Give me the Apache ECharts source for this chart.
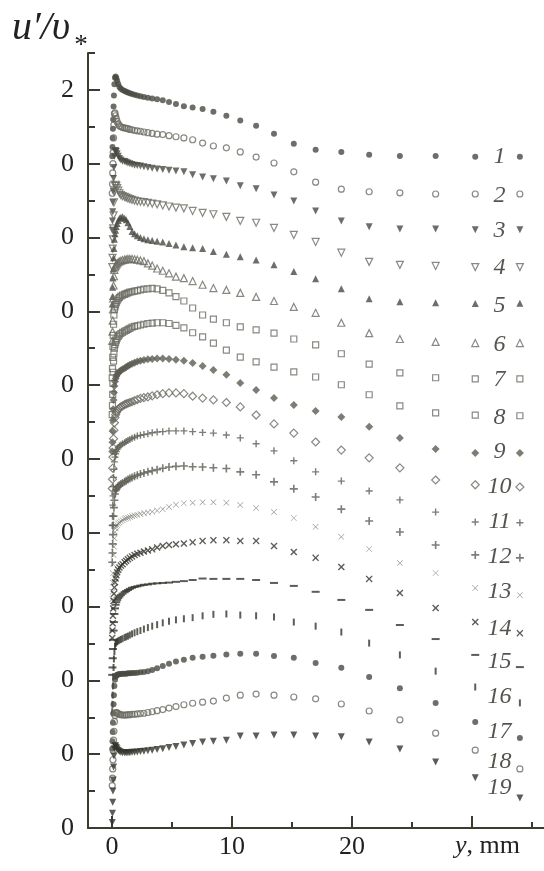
<!DOCTYPE html>
<html>
<head>
<meta charset="utf-8">
<title>u'/v* profiles</title>
<script src="https://cdn.jsdelivr.net/npm/echarts@6/dist/echarts.min.js"></script>
<style>
  html, body { margin: 0; padding: 0; background: #ffffff; }
  #chart { width: 544px; height: 871px; }
</style>
</head>
<body>
<div id="chart"></div>
<script>
// Wall distance y, mm (shared by all profiles)
const yMm = [0.02,0.04,0.06,0.08,0.10,0.13,0.16,0.20,0.25,0.30,
  0.36,0.43,0.52,0.62,0.74,0.88,
  1.05,1.18,1.33,1.49,1.67,1.88,2.11,2.37,2.66,2.99,
  3.35,3.76,4.23,4.75,5.33,5.99,6.72,
  7.55,8.45,9.53,10.69,12.01,13.50,15.15,16.97,19.11,21.43,23.99,26.97,30.27,33.99];

// u'/v* for profiles 1..19 (each is shifted up by one unit relative to the next)
const u1 = [0.2,0.45,0.7,0.95,1.2,1.55,1.85,2.15,2.33,2.36, 2.32,2.25,2.16,2.08,2.03,2.00, 1.97,1.95,1.93,1.91,1.89,1.87,1.85,1.83,1.81,1.79, 1.77,1.75,1.72,1.67,1.62,1.56,1.52, 1.48,1.41,1.30,1.17,1.03,0.81,0.54,0.38,0.32,0.24,0.21,0.21,0.19,0.19];
const u2 = [0.2,0.45,0.75,1.0,1.3,1.7,2.05,2.35,2.38,2.30, 2.22,2.14,2.08,2.03,2.00,1.98, 1.97,1.96,1.95,1.93,1.92,1.90,1.89,1.88,1.86,1.84, 1.82,1.80,1.79,1.76,1.73,1.70,1.65, 1.56,1.48,1.43,1.32,1.18,1.02,0.78,0.50,0.31,0.24,0.21,0.18,0.18,0.18];
const u3 = [0.2,0.45,0.7,0.95,1.25,1.6,1.9,2.2,2.34,2.36, 2.33,2.27,2.20,2.14,2.10,2.07, 2.06,2.04,2.02,2.00,1.98,1.96,1.95,1.94,1.92,1.90, 1.88,1.86,1.84,1.82,1.80,1.78,1.70, 1.64,1.59,1.53,1.40,1.32,1.15,0.99,0.72,0.45,0.29,0.23,0.23,0.21,0.21];
const u4 = [0.2,0.45,0.7,0.95,1.25,1.6,1.95,2.25,2.40,2.43, 2.40,2.34,2.27,2.20,2.15,2.12, 2.10,2.08,2.06,2.04,2.02,2.00,1.98,1.97,1.96,1.94, 1.92,1.90,1.87,1.84,1.81,1.79,1.72, 1.67,1.63,1.56,1.45,1.40,1.26,1.07,0.88,0.59,0.34,0.26,0.23,0.20,0.20];
const u5 = [0.2,0.4,0.65,0.9,1.15,1.45,1.7,1.95,2.10,2.20, 2.30,2.38,2.46,2.52,2.55,2.56, 2.52,2.48,2.40,2.30,2.16,2.10,2.05,2.00,1.97,1.94, 1.92,1.90,1.88,1.84,1.80,1.75,1.72, 1.70,1.62,1.55,1.48,1.39,1.26,1.08,0.88,0.61,0.34,0.26,0.23,0.21,0.22];
const u6 = [0.2,0.45,0.75,1.05,1.35,1.7,1.95,2.12,2.20,2.24, 2.27,2.30,2.33,2.35,2.37,2.39, 2.40,2.41,2.42,2.42,2.42,2.41,2.40,2.38,2.36,2.30, 2.24,2.16,2.10,2.03,1.94,1.90,1.82, 1.72,1.63,1.58,1.50,1.39,1.28,1.12,0.96,0.69,0.41,0.25,0.17,0.14,0.14];
const u7 = [0.2,0.45,0.75,1.05,1.35,1.65,1.9,2.05,2.12,2.18, 2.24,2.29,2.34,2.38,2.41,2.44, 2.46,2.48,2.50,2.52,2.53,2.55,2.56,2.58,2.60,2.61, 2.62,2.61,2.57,2.50,2.40,2.28,2.09, 1.90,1.79,1.69,1.58,1.50,1.41,1.25,1.09,0.85,0.57,0.33,0.20,0.17,0.17];
const u8 = [0.2,0.45,0.75,1.05,1.35,1.65,1.85,2.0,2.10,2.16, 2.22,2.27,2.32,2.36,2.40,2.43, 2.46,2.48,2.51,2.54,2.57,2.59,2.61,2.63,2.65,2.67, 2.68,2.69,2.69,2.67,2.62,2.55,2.42, 2.31,2.14,1.95,1.76,1.63,1.49,1.36,1.22,1.01,0.74,0.44,0.25,0.19,0.17];
const u9 = [0.2,0.45,0.75,1.05,1.35,1.6,1.8,1.98,2.10,2.18, 2.24,2.29,2.33,2.37,2.40,2.43, 2.46,2.49,2.52,2.55,2.58,2.61,2.64,2.66,2.68,2.70, 2.71,2.72,2.72,2.71,2.69,2.66,2.60, 2.52,2.41,2.28,2.06,1.87,1.65,1.46,1.30,1.14,0.87,0.57,0.27,0.16,0.16];
const u10 = [0.2,0.45,0.75,1.05,1.3,1.55,1.78,1.98,2.12,2.20, 2.26,2.31,2.35,2.38,2.41,2.44, 2.47,2.49,2.51,2.53,2.55,2.58,2.61,2.64,2.66,2.68, 2.71,2.74,2.77,2.79,2.79,2.77,2.70, 2.65,2.60,2.53,2.41,2.19,1.95,1.70,1.46,1.24,1.03,0.76,0.43,0.30,0.24];
const u11 = [0.2,0.45,0.75,1.0,1.25,1.5,1.72,1.92,2.05,2.14, 2.20,2.26,2.31,2.35,2.38,2.41, 2.44,2.47,2.50,2.53,2.56,2.59,2.62,2.64,2.66,2.68, 2.71,2.73,2.74,2.76,2.76,2.76,2.74, 2.72,2.70,2.65,2.57,2.41,2.22,1.95,1.65,1.40,1.13,0.89,0.56,0.29,0.27];
const u12 = [0.2,0.45,0.7,0.95,1.2,1.45,1.68,1.88,2.05,2.14, 2.18,2.22,2.26,2.29,2.32,2.35, 2.38,2.41,2.44,2.47,2.50,2.53,2.56,2.59,2.62,2.65, 2.68,2.71,2.75,2.78,2.80,2.81,2.79, 2.78,2.76,2.74,2.65,2.57,2.38,2.19,1.97,1.64,1.32,1.02,0.67,0.40,0.32];
const u13 = [0.2,0.4,0.65,0.9,1.15,1.4,1.62,1.85,2.02,2.12, 2.17,2.21,2.25,2.28,2.31,2.34, 2.37,2.39,2.41,2.43,2.45,2.47,2.49,2.51,2.53,2.55, 2.57,2.60,2.64,2.70,2.76,2.80,2.81, 2.83,2.83,2.81,2.75,2.67,2.56,2.40,2.16,1.89,1.56,1.18,0.91,0.50,0.31];
const u14 = [0.15,0.35,0.55,0.75,0.95,1.15,1.35,1.52,1.66,1.76, 1.85,1.93,2.00,2.06,2.11,2.15, 2.20,2.24,2.28,2.32,2.36,2.40,2.43,2.46,2.49,2.52, 2.55,2.60,2.64,2.67,2.69,2.71,2.74, 2.78,2.80,2.80,2.78,2.78,2.64,2.48,2.32,2.07,1.75,1.37,0.96,0.58,0.28];
const u15 = [0.15,0.35,0.6,0.85,1.1,1.35,1.58,1.8,1.95,2.05, 2.12,2.18,2.23,2.27,2.31,2.35, 2.39,2.42,2.45,2.48,2.51,2.53,2.55,2.57,2.59,2.60, 2.62,2.63,2.64,2.65,2.67,2.69,2.72, 2.76,2.75,2.75,2.75,2.72,2.64,2.56,2.40,2.18,1.91,1.50,1.12,0.69,0.36];
const u16 = [0.15,0.35,0.6,0.85,1.1,1.35,1.58,1.78,1.92,2.00, 2.03,2.05,2.07,2.09,2.11,2.13, 2.16,2.18,2.20,2.23,2.26,2.29,2.32,2.35,2.39,2.43, 2.47,2.51,2.56,2.60,2.64,2.67,2.70, 2.75,2.79,2.80,2.77,2.75,2.72,2.58,2.47,2.31,2.01,1.69,1.25,0.82,0.39];
const u17 = [0.15,0.35,0.6,0.85,1.1,1.35,1.6,1.85,2.02,2.10, 2.13,2.15,2.16,2.17,2.17,2.18, 2.18,2.18,2.19,2.19,2.20,2.20,2.21,2.22,2.23,2.25, 2.28,2.33,2.39,2.45,2.51,2.56,2.61, 2.64,2.67,2.70,2.72,2.72,2.66,2.61,2.47,2.34,2.09,1.79,1.39,0.87,0.44];
const u18 = [0.15,0.35,0.6,0.85,1.1,1.38,1.62,1.88,2.05,2.12, 2.13,2.12,2.10,2.08,2.07,2.06, 2.06,2.06,2.07,2.07,2.08,2.08,2.09,2.10,2.11,2.13, 2.15,2.18,2.21,2.25,2.29,2.34,2.38, 2.41,2.44,2.52,2.60,2.63,2.60,2.55,2.50,2.36,2.17,1.93,1.57,1.11,0.60];
const u19 = [0.15,0.4,0.7,1.0,1.3,1.65,1.95,2.15,2.23,2.22, 2.18,2.14,2.10,2.07,2.05,2.04, 2.04,2.04,2.04,2.04,2.05,2.05,2.06,2.07,2.08,2.09, 2.11,2.13,2.15,2.18,2.21,2.25,2.29, 2.33,2.35,2.38,2.49,2.49,2.52,2.52,2.49,2.47,2.33,2.14,1.79,1.36,0.81];

const profiles = [u1,u2,u3,u4,u5,u6,u7,u8,u9,u10,u11,u12,u13,u14,u15,u16,u17,u18,u19];
const profileNames = ['1','2','3','4','5','6','7','8','9','10','11','12','13','14','15','16','17','18','19'];
// Vertical position (axis units) of each profile's number tag
const tagLevels = [18.18,17.13,16.18,15.19,14.15,13.09,12.14,11.11,10.20,9.25,8.30,7.35,6.40,5.41,4.51,3.56,2.60,1.80,1.08];
const tagY = 32.3;

// Axis ticks
const yMajor = [0,2,4,6,8,10,12,14,16,18,20];
const yMinor = [1,3,5,7,9,11,13,15,17,19,21];
const xMajor = [0,10,20,30];
const xMinor = [5,15,25,35];
const xLabels = [0,10,20];

// Marker styles
const INK = '#4a4a42';
const PALE = '#6c6c63';
const PLUS = 'path://M4,0H6V4H10V6H6V10H4V6H0V4H4Z';
const XTHIN = 'path://M0,0.6L0.6,0L5,4.4L9.4,0L10,0.6L5.6,5L10,9.4L9.4,10L5,5.6L0.6,10L0,9.4L4.4,5Z';
const XBOLD = 'path://M0,1.4L1.4,0L5,3.6L8.6,0L10,1.4L6.4,5L10,8.6L8.6,10L5,6.4L1.4,10L0,8.6L3.6,5Z';
const filled = (c) => ({ color: c || INK });
const hollow = () => ({ color: 'rgba(255,255,255,0)', borderColor: PALE, borderWidth: 1.2 });
const markers = [
  { symbol: 'circle', size: 6, item: filled() },
  { symbol: 'circle', size: 6, item: hollow() },
  { symbol: 'triangle', size: 7, rot: 180, item: filled() },
  { symbol: 'triangle', size: 7, rot: 180, item: hollow() },
  { symbol: 'triangle', size: 7, item: filled() },
  { symbol: 'triangle', size: 7, item: hollow() },
  { symbol: 'rect', size: 6, item: hollow() },
  { symbol: 'rect', size: 6, item: hollow() },
  { symbol: 'diamond', size: 8, item: filled('#5c5c53') },
  { symbol: 'diamond', size: 8, item: hollow() },
  { symbol: PLUS, size: 7, item: filled('#5c5c53') },
  { symbol: PLUS, size: 8, item: filled('#5c5c53') },
  { symbol: XTHIN, size: 6, item: filled('#68685f') },
  { symbol: XBOLD, size: 7, item: filled('#34342d') },
  { symbol: 'rect', size: [8, 2], item: filled('#34342d') },
  { symbol: 'rect', size: [2, 7], item: filled('#34342d') },
  { symbol: 'circle', size: 6, item: filled() },
  { symbol: 'circle', size: 6, item: hollow() },
  { symbol: 'triangle', size: 7, rot: 180, item: filled('#34342d') }
];

const SERIF = '"Liberation Serif", "DejaVu Serif", serif';
const AXIS = '#3b3b30';

const series = profiles.map((u, i) => ({
  type: 'scatter',
  name: profileNames[i],
  xAxisIndex: 0,
  yAxisIndex: 0,
  symbol: markers[i].symbol,
  symbolSize: markers[i].size,
  symbolRotate: markers[i].rot || 0,
  itemStyle: markers[i].item,
  silent: true,
  data: yMm.map((x, j) => [x, u[j] + (profiles.length - 1 - i)])
}));

series.push({
  type: 'scatter',
  xAxisIndex: 0,
  yAxisIndex: 0,
  symbolSize: 0,
  silent: true,
  data: tagLevels.map((v, i) => ({ value: [tagY, v], name: profileNames[i] })),
  label: {
    show: true,
    position: 'inside',
    formatter: (p) => p.name,
    fontFamily: SERIF,
    fontStyle: 'italic',
    fontSize: 24,
    color: '#2a2a24'
  }
});

const chart = echarts.init(document.getElementById('chart'), null, { renderer: 'canvas' });
chart.setOption({
  animation: false,
  backgroundColor: '#ffffff',
  grid: { left: 88, top: 53, width: 460, height: 775, containLabel: false },
  xAxis: [
    {
      type: 'value', min: -2, max: 36, position: 'bottom',
      axisLine: { show: true, onZero: false, lineStyle: { color: AXIS, width: 2 } },
      axisTick: { show: true, inside: true, length: 12, customValues: xMajor, lineStyle: { color: AXIS, width: 2 } },
      axisLabel: { show: true, customValues: xLabels, margin: 6, fontFamily: SERIF, fontSize: 26, color: '#222' },
      splitLine: { show: false }
    },
    {
      type: 'value', min: -2, max: 36, position: 'bottom',
      axisLine: { show: false, onZero: false },
      axisTick: { show: true, inside: true, length: 6, customValues: xMinor, lineStyle: { color: AXIS, width: 2 } },
      axisLabel: { show: false },
      splitLine: { show: false }
    }
  ],
  yAxis: [
    {
      type: 'value', min: 0, max: 21, position: 'left',
      axisLine: { show: true, onZero: false, lineStyle: { color: AXIS, width: 2 } },
      axisTick: { show: true, inside: true, length: 12, customValues: yMajor, lineStyle: { color: AXIS, width: 2 } },
      axisLabel: {
        show: true, customValues: yMajor, margin: 14,
        fontFamily: SERIF, fontSize: 26, color: '#222',
        formatter: (v) => (v === 20 ? '2' : '0')
      },
      splitLine: { show: false }
    },
    {
      type: 'value', min: 0, max: 21, position: 'left',
      axisLine: { show: false, onZero: false },
      axisTick: { show: true, inside: true, length: 7, customValues: yMinor, lineStyle: { color: AXIS, width: 2 } },
      axisLabel: { show: false },
      splitLine: { show: false }
    }
  ],
  graphic: [
    {
      type: 'text', left: 12, top: 8,
      style: { text: 'u′/υ', font: 'italic 40px "Liberation Serif"', fill: '#222' }
    },
    {
      type: 'text', left: 73, top: 32,
      style: { text: '*', font: 'italic 27px "Liberation Serif"', fill: '#222' }
    },
    {
      type: 'text', left: 455, top: 833,
      style: {
        text: '{i|y}, mm',
        font: '26px "Liberation Serif"',
        fill: '#222',
        rich: { i: { fontFamily: SERIF, fontStyle: 'italic', fontSize: 26, fill: '#222' } }
      }
    }
  ],
  series: series
});
</script>
</body>
</html>
